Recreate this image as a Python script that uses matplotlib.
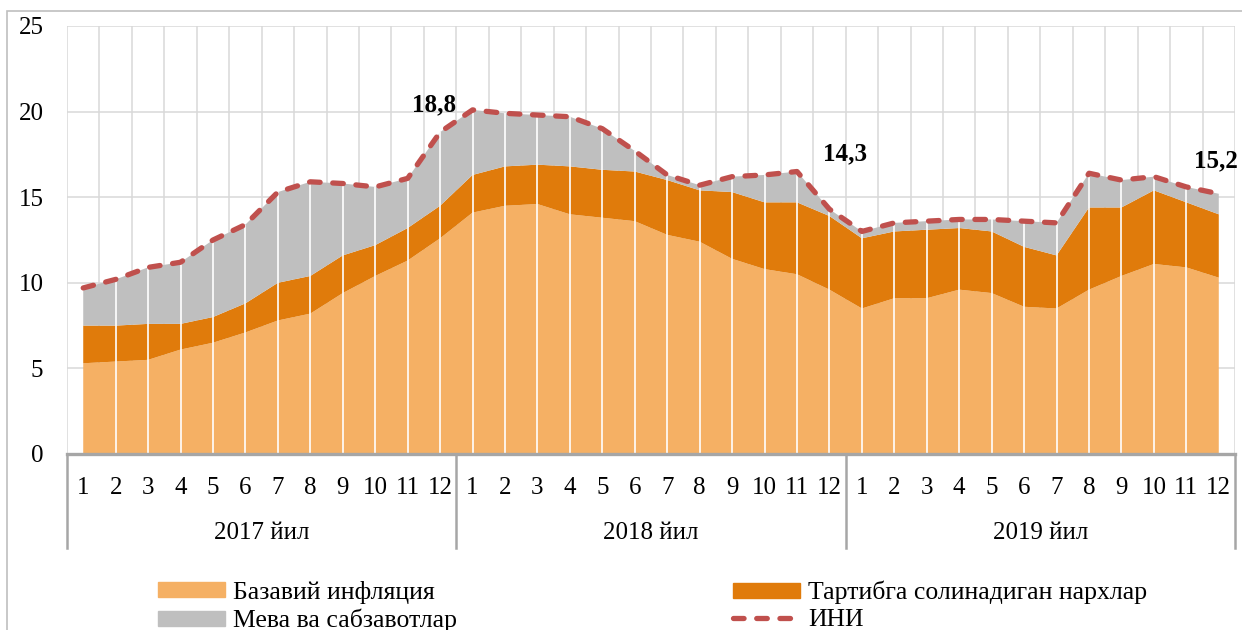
import numpy as np
import matplotlib.pyplot as plt
from matplotlib.patches import Patch, Rectangle
from matplotlib.lines import Line2D

plt.rcParams['font.family'] = ['Liberation Serif', 'DejaVu Serif']

# months of 2017-2019, values in percent
months = [str(m) for m in range(1, 13)] * 3
years = ['2017 йил', '2018 йил', '2019 йил']

base = [5.3, 5.4, 5.5, 6.1, 6.5, 7.1, 7.8, 8.2, 9.4, 10.4, 11.3, 12.6,
        14.1, 14.5, 14.6, 14.0, 13.8, 13.6, 12.8, 12.4, 11.4, 10.8, 10.5, 9.6,
        8.5, 9.1, 9.1, 9.6, 9.4, 8.6, 8.5, 9.6, 10.4, 11.1, 10.9, 10.3]
regulated = [2.2, 2.1, 2.1, 1.5, 1.5, 1.7, 2.2, 2.2, 2.2, 1.8, 1.9, 1.9,
             2.2, 2.3, 2.3, 2.8, 2.8, 2.9, 3.2, 3.0, 3.9, 3.9, 4.2, 4.3,
             4.1, 3.9, 4.0, 3.6, 3.6, 3.5, 3.1, 4.8, 4.0, 4.3, 3.8, 3.7]
fruit_veg = [2.2, 2.7, 3.3, 3.6, 4.5, 4.6, 5.3, 5.5, 4.2, 3.4, 2.9, 4.3,
             3.8, 3.1, 2.9, 2.9, 2.4, 1.2, 0.3, 0.3, 0.9, 1.6, 1.8, 0.4,
             0.4, 0.5, 0.5, 0.5, 0.7, 1.5, 1.9, 2.0, 1.6, 0.8, 0.9, 1.2]
ini = [9.7, 10.2, 10.9, 11.2, 12.5, 13.4, 15.3, 15.9, 15.8, 15.6, 16.1, 18.8,
       20.1, 19.9, 19.8, 19.7, 19.0, 17.7, 16.3, 15.7, 16.2, 16.3, 16.5, 14.3,
       13.0, 13.5, 13.6, 13.7, 13.7, 13.6, 13.5, 16.4, 16.0, 16.2, 15.6, 15.2]

labels_idx = [11, 23, 35]

c_base = '#F5B064'
c_reg = '#E07B0B'
c_fv = '#BFBFBF'
c_ini = '#C0504D'
fs = 18

fig = plt.figure(figsize=(12.42, 6.3), dpi=100)
ax = fig.add_axes([67/1242, 1-454/630, (1235-67)/1242, (454-26)/630])

x = np.arange(len(base))
ax.stackplot(x, base, regulated, fruit_veg, colors=[c_base, c_reg, c_fv],
             linewidth=0, zorder=2)
ax.vlines(x[1:-1], 0, np.array(ini)[1:-1], color='white', lw=1.2, zorder=3)
ax.plot(x, ini, color=c_ini, lw=3.8, dashes=(2, 2.4),
        dash_capstyle='round', zorder=4)

ax.set_xlim(-0.5, 35.5)
ax.set_ylim(0, 25)
ax.set_yticks(range(0, 26, 5))
ax.tick_params(axis='y', length=0, pad=17, labelsize=fs)
ax.set_xticks([])
for y in range(5, 26, 5):
    ax.axhline(y, color='#D9D9D9', lw=1.1, zorder=1)
for k in range(37):
    ax.axvline(k - 0.5, color='#D9D9D9', lw=1.1, zorder=1)
for s in ['top', 'right', 'left']:
    ax.spines[s].set_visible(False)
ax.spines['bottom'].set_color('#A6A6A6')
ax.spines['bottom'].set_linewidth(2.4)
ax.spines['bottom'].set_zorder(5)

tr = ax.get_xaxis_transform()
for i, m in enumerate(months):
    ax.text(i, -0.079, m, transform=tr, ha='center', va='center', fontsize=fs)
for j, yl in enumerate(years):
    ax.text(j * 12 + 5.5, -0.184, yl, transform=tr, ha='center', va='center',
            fontsize=fs)
for k in [0, 12, 24, 36]:
    ax.plot([k - 0.5, k - 0.5], [0, -0.22], transform=tr, color='#A6A6A6',
            lw=1.8, clip_on=False)

offsets = [(-6, 27), (16, 55), (-3, 33)]
for idx, off in zip(labels_idx, offsets):
    ax.annotate(f'{ini[idx]:.1f}'.replace('.', ','), (idx, ini[idx]),
                xytext=off, textcoords='offset pixels', ha='center',
                va='center', fontsize=fs, fontweight='bold', zorder=6)

# chart frame
fig.patches.append(Rectangle((7/1242, -0.1), 1.1, 1 - 11/630 + 0.1,
                             transform=fig.transFigure, fill=False,
                             edgecolor='#BFBFBF', lw=1.2))

h_base = Patch(color=c_base)
h_fv = Patch(color=c_fv)
h_reg = Patch(color=c_reg)
h_ini = Line2D([], [], color=c_ini, lw=3.8, dashes=(2, 2.4),
               dash_capstyle='round')
leg_kw = dict(frameon=False, fontsize=fs + 0.5, handlelength=2.6,
              handleheight=0.52, handletextpad=0.33, labelspacing=0.18,
              borderpad=0, borderaxespad=0, loc='upper left')
fig.legend([h_base, h_fv], ['Базавий инфляция', 'Мева ва сабзавотлар'],
           bbox_to_anchor=(158/1242, 1 - 581/630), **leg_kw)
fig.legend([h_reg, h_ini], ['Тартибга солинадиган нархлар', 'ИНИ'],
           bbox_to_anchor=(733/1242, 1 - 581/630), **leg_kw)

fig.savefig('out.png', dpi=100)
